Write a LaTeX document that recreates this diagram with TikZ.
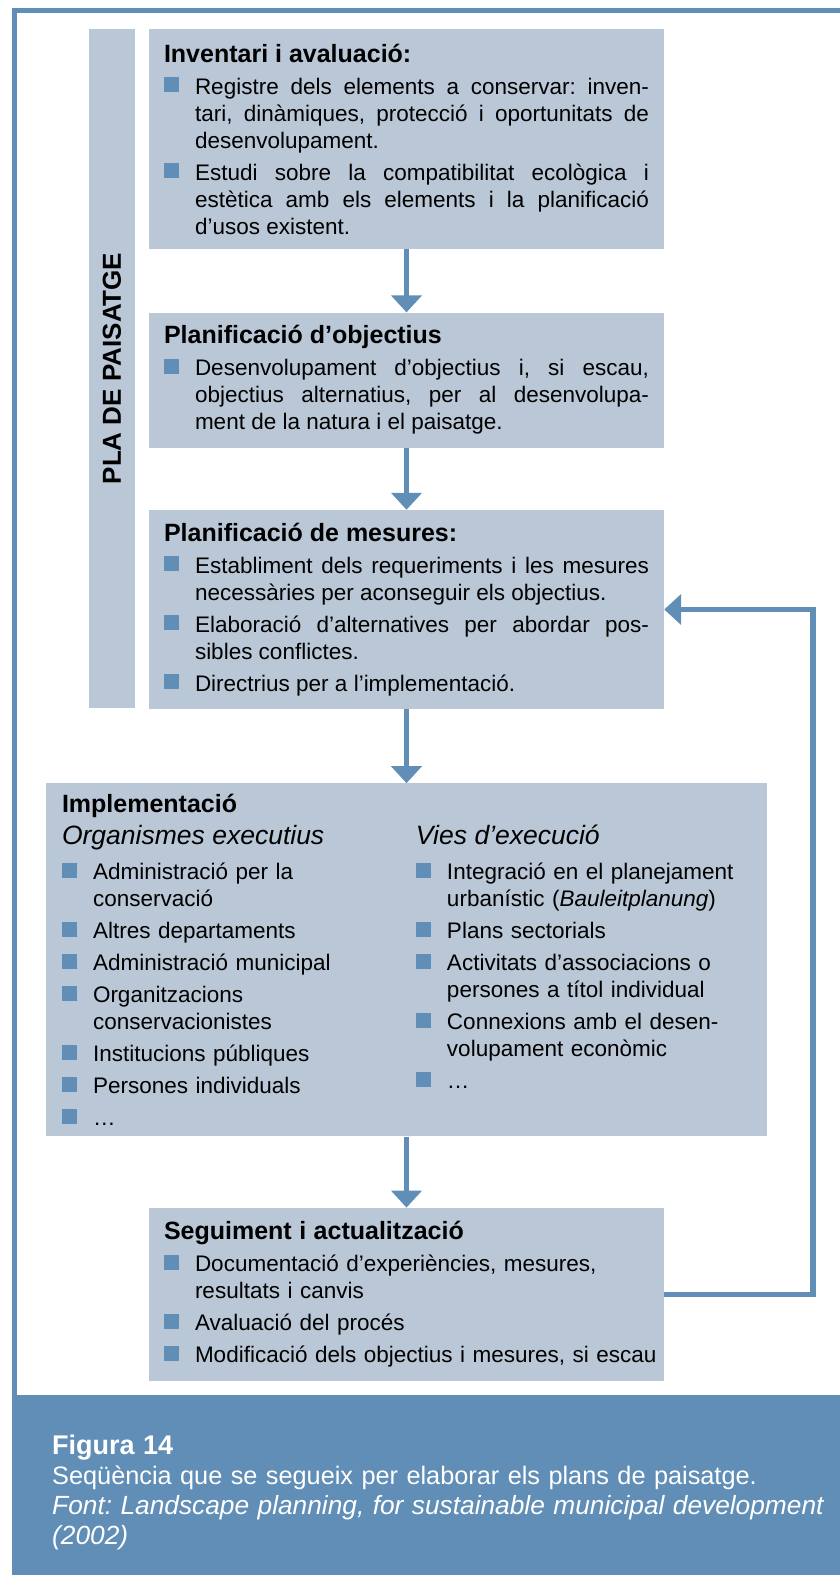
\documentclass[tikz,border=0pt]{standalone}
\usepackage{fontspec}
\setmainfont{Liberation Sans}
\usetikzlibrary{arrows.meta, positioning}
\definecolor{FrameBlue}{RGB}{96, 142, 182}
\definecolor{BoxFill}{RGB}{186, 199, 215}
\frenchspacing
\newcommand{\bodyfont}{\fontsize{22.5pt}{27pt}\selectfont}
\newcommand{\titlefont}{\bfseries\fontsize{25pt}{27pt}\selectfont}
\newcommand{\headfont}{\itshape\fontsize{26.5pt}{30pt}\selectfont}
\newcommand{\capfont}{\fontsize{25.3pt}{30pt}\selectfont}
\newcommand{\sqbullet}{\textcolor{FrameBlue}{\rule[2pt]{15pt}{15pt}}}
\newcommand{\bitem}[1]{\par\vspace{5pt}\noindent\hangindent=31pt\hangafter=1\makebox[31pt][l]{\sqbullet}#1\par}

\begin{document}
\begin{tikzpicture}[
    x=1pt, y=-1pt,
    box/.style={fill=BoxFill, text width=485pt, minimum width=515pt,
                inner xsep=14pt, inner ysep=10pt, font=\bodyfont, align=justify},
    band/.style={fill=BoxFill, inner sep=0pt, font=\bfseries\fontsize{26pt}{30pt}\selectfont},
    flow/.style={draw=FrameBlue, line width=5.5pt, -{Triangle[width=30pt, length=17pt]}},
    frame/.style={draw=FrameBlue, line width=5pt}
]
\useasboundingbox (0,0) rectangle (840,1575);

% frame and caption band
\draw[frame] (840,10.5) -- (14.5,10.5) -- (14.5,1395);
\fill[FrameBlue] (12,1395) rectangle (840,1575);

\node[box, minimum height=220pt, anchor=north] (inv) at (406.5,29) {%
  {\titlefont Inventari i avaluació:\par}
  \bitem{Registre dels elements a conservar: inven-\linebreak tari, dinàmiques, protecció i oportunitats de\linebreak desenvolupament.}
  \bitem{Estudi sobre la compatibilitat ecològica i\linebreak estètica amb els elements i la planificació\linebreak d’usos existent.}};
\node[box, minimum height=135pt, below=63pt of inv] (obj) {%
  {\titlefont Planificació d’objectius\par}
  \bitem{Desenvolupament d’objectius i, si escau,\linebreak objectius alternatius, per al desenvolupa-\linebreak ment de la natura i el paisatge.}};
\node[box, minimum height=199pt, below=62pt of obj] (mes) {%
  {\titlefont Planificació de mesures:\par}
  \bitem{Establiment dels requeriments i les mesures\linebreak necessàries per aconseguir els objectius.}
  \bitem{Elaboració d’alternatives per abordar pos-\linebreak sibles conflictes.}
  \bitem{Directrius per a l’implementació.}};
\node[band, rotate=90, minimum width=679pt, minimum height=46pt] (pla) at (112,368.5) {PLA DE PAISATGE};

\node[box, text width=689pt, minimum width=721pt, inner xsep=16pt, minimum height=353pt,
      align=left, below=74pt of mes] (imp) {%
  {\titlefont Implementació\par}\vspace{5pt}
  \noindent\begin{minipage}[t]{354pt}\raggedright
    {\headfont Organismes executius\par}\vspace{3pt}
    \bitem{Administració per la\newline conservació}
    \bitem{Altres departaments}
    \bitem{Administració municipal}
    \bitem{Organitzacions\newline conservacionistes}
    \bitem{Institucions públiques}
    \bitem{Persones individuals}
    \bitem{…}
  \end{minipage}%
  \begin{minipage}[t]{335pt}\raggedright
    {\headfont Vies d’execució\par}\vspace{3pt}
    \bitem{Integració en el planejament\newline urbanístic (\textit{Bauleitplanung})}
    \bitem{Plans sectorials}
    \bitem{Activitats d’associacions o\newline persones a títol individual}
    \bitem{Connexions amb el desen-\newline volupament econòmic}
    \bitem{…}
  \end{minipage}};
\node[box, minimum height=173pt, align=left, below=71pt of imp] (seg) {%
  {\titlefont Seguiment i actualització\par}
  \bitem{Documentació d’experiències, mesures,\newline resultats i canvis}
  \bitem{Avaluació del procés}
  \bitem{\mbox{Modificació dels objectius i mesures, si escau}}};

\draw[flow] (inv) -- (obj);
\draw[flow] (obj) -- (mes);
\draw[flow] (mes) -- (imp);
\draw[flow] (imp) -- (seg);
\draw[flow] (seg.east) -- ++(149pt,0) |- (mes.east);

% caption
\node[anchor=base west, text=white, text width=780pt, align=left, inner sep=0pt, font=\capfont] (cap) at (52,1454) {%
  {\bfseries\fontsize{27pt}{30pt}\selectfont Figura 14}\\
  Seqüència que se segueix per elaborar els plans de paisatge.\\
  {\itshape\fontsize{26.3pt}{30pt}\selectfont Font: Landscape planning, for sustainable municipal development}\\
  {\itshape\fontsize{26.3pt}{30pt}\selectfont (2002)}};
\end{tikzpicture}
\end{document}
